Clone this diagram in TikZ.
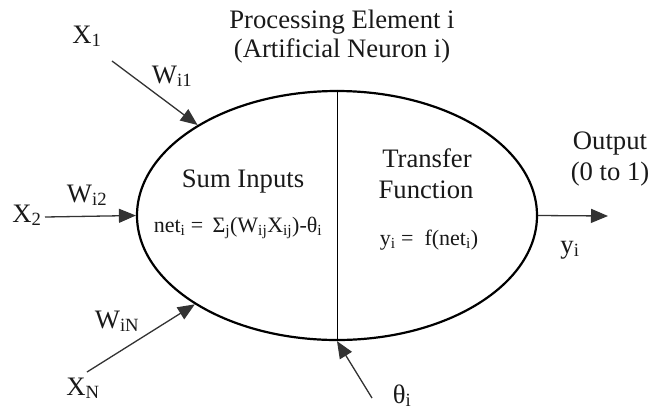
\documentclass[tikz,border=0pt]{standalone}
\usepackage{fontspec}
\setmainfont{Liberation Serif}
\usetikzlibrary{arrows.meta,shapes.geometric}
\begin{document}
\begin{tikzpicture}[x=1pt,y=-1pt,
  txt/.style={font=\fontsize{26.67}{30}\selectfont, inner sep=0pt, anchor=base, text=black!90},
  eqn/.style={txt, font=\fontsize{22}{26}\selectfont},
  inarrow/.style={draw=black!80, line width=1.3pt, -{Triangle[length=17pt,width=14pt]}},
  body/.style={draw=black, line width=2.2pt, ellipse, minimum width=400pt, minimum height=249pt, inner sep=0pt}
]
\useasboundingbox[fill=white] (0,0) rectangle (653,416);
% neuron body
\node[body] (el) at (337,215.5) {};
\draw[line width=0.9pt] (el.north) -- (el.south);
% free ends
\coordinate (x1s) at (112,61);
\coordinate (x2s) at (45,217);
\coordinate (xns) at (87,372);
\coordinate (ths) at (372,398);
\coordinate (outt) at (608,216);
% arrows
\draw[inarrow] (x1s) -- (el.147.7);
\draw[inarrow] (x2s) -- (el.west);
\draw[inarrow] (xns) -- (el.212.6);
\draw[inarrow] (ths) -- (el.south);
\draw[inarrow] (el.east) -- (outt);
% labels
\node[txt] (tx1) at (87,43) {X\textsubscript{1}};
\node[txt] (tw1) at (172,83) {W\textsubscript{i1}};
\node[txt] (tx2) at (27,222) {X\textsubscript{2}};
\node[txt] (tw2) at (87,202) {W\textsubscript{i2}};
\node[txt] (twn) at (117,328) {W\textsubscript{iN}};
\node[txt] (txn) at (83,395) {X\textsubscript{N}};
\node[txt] (tth) at (402,403) {θ\textsubscript{i}};
\node[txt] (tpe) at (342,28) {Processing Element i};
\node[txt] (tan) at (342,57) {(Artificial Neuron i)};
\node[txt] (tsum) at (243,187) {Sum Inputs};
\node[eqn] (tnet) at (238,232) {net\textsubscript{i} =\ \,Σ\textsubscript{j}(W\textsubscript{ij}X\textsubscript{ij})-θ\textsubscript{i}};
\node[txt] (ttr) at (427,167) {Transfer};
\node[txt] (tfn) at (426,198) {Function};
\node[eqn] (tyf) at (429,245) {y\textsubscript{i} =\ \ f(net\textsubscript{i})};
\node[txt] (tout) at (610,149) {Output};
\node[txt] (t01) at (610,180) {(0 to 1)};
\node[txt] (tyi) at (570,253) {y\textsubscript{i}};
\end{tikzpicture}
\end{document}
